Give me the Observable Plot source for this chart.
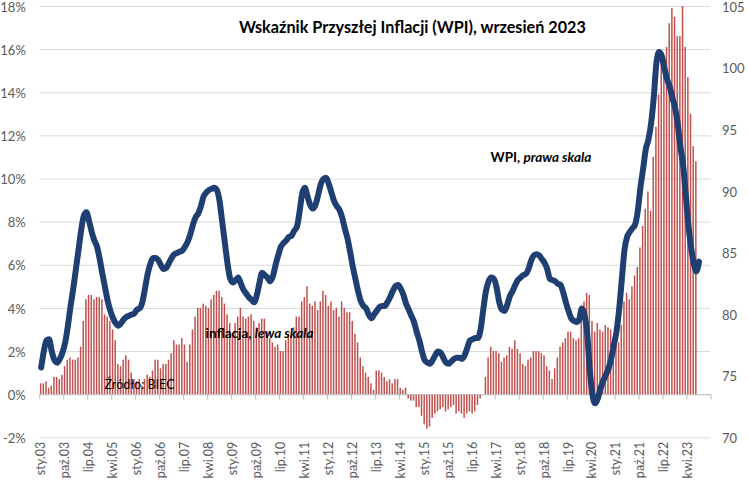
<!DOCTYPE html>
<html><head><meta charset="utf-8">
<script src="https://cdn.jsdelivr.net/npm/d3@7"></script>
<script src="https://cdn.jsdelivr.net/npm/@observablehq/plot@0.6"></script>
<style>body{margin:0;background:#fff}svg{display:block}</style>
</head><body><div id="chart"></div>
<script>
// monthly, starting January 2003
const inflation = [
  0.5,0.5,0.6,0.3,0.4,0.8,0.8,0.7,0.9,1.3,1.6,1.7,
  1.6,1.6,1.7,2.2,3.4,4.4,4.6,4.6,4.4,4.5,4.5,4.4,
  3.7,3.6,3.4,3.0,2.5,1.4,1.3,1.6,1.8,1.6,1.0,0.7,
  0.6,0.7,0.4,0.7,0.9,0.8,1.1,1.6,1.6,1.2,1.4,1.4,
  1.6,1.9,2.5,2.3,2.3,2.6,2.3,1.5,2.3,3.0,3.6,4.0,
  4.0,4.2,4.1,4.0,4.4,4.6,4.8,4.8,4.5,4.2,3.7,3.3,
  2.8,3.3,3.6,4.0,3.6,3.5,3.6,3.7,3.4,3.1,3.3,3.5,
  3.5,2.9,2.6,2.4,2.2,2.3,2.0,2.0,2.5,2.8,2.7,3.1,
  3.6,3.6,4.3,4.5,5.0,4.2,4.1,4.3,3.9,4.3,4.8,4.6,
  4.1,4.3,3.9,4.0,3.6,4.3,4.0,3.8,3.8,3.4,2.8,2.4,
  1.7,1.3,1.0,0.8,0.5,0.2,1.1,1.1,1.0,0.8,0.6,0.7,
  0.5,0.7,0.7,0.3,0.2,0.3,-0.2,-0.3,-0.3,-0.6,-0.6,-1.0,
  -1.4,-1.6,-1.5,-1.1,-0.9,-0.8,-0.7,-0.6,-0.8,-0.7,-0.6,-0.5,
  -0.9,-0.8,-0.9,-1.1,-0.9,-0.8,-0.9,-0.8,-0.5,-0.2,0.0,0.8,
  1.7,2.2,2.0,2.0,1.9,1.5,1.7,1.8,2.2,2.1,2.5,2.1,
  1.9,1.4,1.3,1.6,1.7,2.0,2.0,2.0,1.9,1.8,1.3,1.1,
  0.7,1.2,1.7,2.2,2.4,2.6,2.9,2.9,2.6,2.5,2.6,3.4,
  4.3,4.7,4.6,3.4,2.9,3.3,3.0,2.9,3.2,3.1,3.0,2.4,
  2.6,2.4,3.2,4.3,4.7,4.4,5.0,5.5,5.9,6.8,7.8,8.6,
  9.4,8.5,11.0,12.4,13.9,15.5,15.6,16.1,17.2,17.9,17.5,16.6,
  16.6,18.4,16.1,14.7,13.0,11.5,10.8
];
const wpi = [
  75.7,77.0,77.9,78.0,77.0,76.3,76.1,76.4,76.9,77.7,79.0,80.6,
  82.0,83.6,85.2,86.8,88.0,88.3,87.6,86.7,86.0,85.5,84.5,83.3,
  82.2,81.1,80.3,79.7,79.3,79.1,79.3,79.6,79.8,79.9,80.0,80.1,
  80.4,80.5,81.0,82.1,83.3,84.1,84.6,84.6,84.4,84.0,83.7,83.8,
  84.2,84.6,84.9,85.0,85.1,85.2,85.5,85.9,86.5,87.3,87.9,88.2,
  88.8,89.6,89.9,90.1,90.2,90.3,90.1,89.2,87.5,85.8,84.1,82.9,
  82.6,82.8,83.0,82.5,82.0,81.7,81.4,81.2,81.0,81.6,82.6,83.4,
  83.2,83.0,82.7,83.1,84.0,84.8,85.5,85.8,86.0,86.3,86.4,86.8,
  87.1,88.3,89.8,90.3,89.6,88.9,88.6,88.9,89.7,90.6,91.0,91.1,
  90.6,89.9,89.2,88.8,88.5,87.9,87.0,86.2,85.1,83.9,82.9,81.9,
  81.1,80.7,80.5,80.0,79.7,80.0,80.3,80.6,80.7,80.7,81.0,81.4,
  81.9,82.3,82.4,82.1,81.6,80.9,80.4,79.9,79.4,78.6,77.9,77.0,
  76.3,76.1,76.0,76.3,76.7,77.0,76.9,76.5,76.1,76.0,76.2,76.4,
  76.5,76.5,76.4,76.7,77.3,77.9,78.0,78.1,78.1,78.8,80.4,81.9,
  82.7,83.0,82.9,82.2,81.0,80.4,80.3,80.8,81.5,81.9,82.4,82.8,
  83.0,83.2,83.3,83.7,84.4,84.8,84.9,84.8,84.5,84.2,83.7,82.9,
  82.8,82.7,82.5,82.4,81.8,81.0,80.3,79.7,79.5,79.4,79.6,80.5,
  80.0,78.5,75.5,73.5,72.8,73.2,74.0,74.6,75.1,75.6,76.4,77.5,
  78.6,80.4,82.8,85.2,86.3,86.7,87.0,87.3,88.4,90.3,91.8,93.4,
  94.2,95.5,97.6,100.4,101.3,101.0,100.0,99.1,98.5,97.6,96.8,95.5,
  93.6,92.2,89.8,87.3,85.5,84.2,83.5,84.3
];
const tickLabels = ["sty.03","paź.03","lip.04","kwi.05","sty.06","paź.06","lip.07","kwi.08","sty.09","paź.09","lip.10","kwi.11","sty.12","paź.12","lip.13","kwi.14","sty.15","paź.15","lip.16","kwi.17","sty.18","paź.18","lip.19","kwi.20","sty.21","paź.21","lip.22","kwi.23"];
const leftTicks = [-2,0,2,4,6,8,10,12,14,16,18];
const rightTicks = [70,75,80,85,90,95,100,105];
const title = "Wskaźnik Przyszłej Inflacji (WPI), wrzesień 2023";

const nMonths = 252, step = 9;
const inflData = inflation.map((v, i) => ({i, v}));
const wpiData = wpi.map((v, i) => ({i, v}));
const labelIdx = tickLabels.map((_, k) => k * step);
const tickIdx = d3.range(0, nMonths + 1, step);
const toLeft = v => -2 + (v - 70) * 20 / 35;
const toRight = y => 70 + (y + 2) * 35 / 20;
const font = "Lato, 'Open Sans', sans-serif";

const chart = Plot.plot({
  width: 748, height: 491,
  marginLeft: 39.3, marginRight: 37.5, marginTop: 6, marginBottom: 53.7,
  style: {fontFamily: font, background: "#fff", overflow: "visible"},
  x: {domain: [-0.5, nMonths - 0.5], axis: null},
  y: {domain: [-2, 18], axis: null},
  marks: [
    Plot.ruleY(leftTicks, {stroke: "#d9d9d9", strokeWidth: 1}),
    Plot.rectY(inflData, {x1: d => d.i - 0.28, x2: d => d.i + 0.28, y1: 0, y2: "v", fill: "#c0504d", clip: true}),
    Plot.ruleY([0], {stroke: "#bfbfbf"}),
    Plot.ruleX(tickIdx, {x: d => d - 0.5, y1: 0, y2: -0.25, stroke: "#bfbfbf"}),
    Plot.line(wpiData, {x: "i", y: d => toLeft(d.v), stroke: "#1f3f73", strokeWidth: 6, curve: "monotone-x", strokeLinejoin: "round", strokeLinecap: "round"}),
    Plot.axisY(leftTicks, {anchor: "left", label: null, tickSize: 0, tickPadding: 14, dy: 1, tickFormat: d => `${d}%`, fontSize: 13, fill: "#595959"}),
    Plot.axisY(rightTicks.map(toLeft), {anchor: "right", label: null, tickSize: 0, tickPadding: 11, dy: 1, tickFormat: d => String(Math.round(toRight(d))), fontSize: 13, fill: "#595959"}),
    Plot.axisX(labelIdx, {anchor: "bottom", label: null, tickSize: 0, tickPadding: 4, tickRotate: -90, tickFormat: (d, k) => tickLabels[k], fontSize: 12.5, fill: "#595959"}),
    Plot.text([title], {frameAnchor: "top", dx: 37, dy: 21, lineAnchor: "middle", fontSize: 16.2, fontWeight: "bold", fill: "#000"}),
    Plot.text(["WPI, prawa skala"], {x: 168.7, y: 11.0, textAnchor: "start", lineAnchor: "middle", fontSize: 13.5, fontWeight: "bold", fill: "#000"}),
    Plot.text(["inflacja, lewa skala"], {x: 61.7, y: 2.84, textAnchor: "start", lineAnchor: "middle", fontSize: 13.5, fontWeight: "bold", fill: "#000"}),
    Plot.text(["Źródło: BIEC"], {x: 23.8, y: 0.47, textAnchor: "start", lineAnchor: "middle", fontSize: 12.5, fill: "#000"})
  ]
});
// italic part of the series annotations
chart.querySelectorAll("text").forEach(t => {
  const s = t.textContent;
  const m = s.match(/^(WPI, |inflacja, )(prawa skala|lewa skala)$/);
  if (m) {
    t.textContent = m[1];
    const ts = document.createElementNS("http://www.w3.org/2000/svg", "tspan");
    ts.setAttribute("font-style", "italic");
    ts.textContent = m[2];
    t.appendChild(ts);
  }
});
document.getElementById("chart").appendChild(chart);
</script>
</body></html>
